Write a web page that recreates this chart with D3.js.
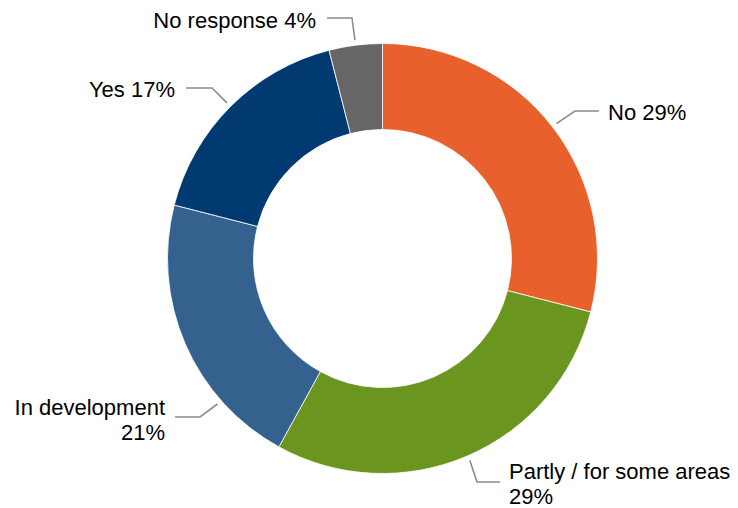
<!DOCTYPE html>
<html>
<head>
<meta charset="utf-8">
<script src="https://cdn.jsdelivr.net/npm/d3@7"></script>
<style>
  html, body { margin: 0; padding: 0; background: #ffffff; }
  svg { display: block; }
  text { font-family: "Liberation Sans", Arial, sans-serif; font-size: 22px; fill: #000; }
</style>
</head>
<body>
<svg id="chart" width="738" height="508"></svg>
<script>
// Survey answers, clockwise from 12 o'clock
const categories = ["No", "Partly / for some areas", "In development", "Yes", "No response"];
const shares = [29, 29, 21, 17, 4];
const labelLines = [
  ["No 29%"],
  ["Partly / for some areas", "29%"],
  ["In development", "21%"],
  ["Yes 17%"],
  ["No response 4%"]
];
const colors = ["#E8602B", "#6A961F", "#34618E", "#003A70", "#666666"];

// Callout placement: label text anchor, leader elbow and leader end next to the text.
// angleShift nudges the point where a leader meets the ring away from the slice middle.
const callouts = [
  { tx: 608, ty: 120, anchor: "start", elbow: [575, 111], end: [599, 111], angleShift: 0 },
  { tx: 509, ty: 479, anchor: "start", elbow: [477, 482], end: [500, 482], angleShift: 0 },
  { tx: 165, ty: 415, anchor: "end",   elbow: [200, 417], end: [175, 417], angleShift: -18 },
  { tx: 175, ty: 97,  anchor: "end",   elbow: [212, 88],  end: [186, 88],  angleShift: 0 },
  { tx: 316, ty: 28,  anchor: "end",   elbow: [352, 18],  end: [327, 18],  angleShift: 0 }
];

const cx = 382.5, cy = 258.5, outerR = 215, innerR = 129, leaderR = 220;

const svg = d3.select("#chart");
const g = svg.append("g").attr("transform", `translate(${cx},${cy})`);

const pie = d3.pie().value(d => d).sort(null);
const arcs = pie(shares);
const arc = d3.arc().innerRadius(innerR).outerRadius(outerR);

g.selectAll("path.slice")
  .data(arcs)
  .join("path")
  .attr("class", "slice")
  .attr("d", arc)
  .attr("fill", (d, i) => colors[i])
  .attr("stroke", "#ffffff")
  .attr("stroke-width", 0.8);

// Leader lines from the ring out to each label
const line = d3.line();
svg.selectAll("path.leader")
  .data(arcs)
  .join("path")
  .attr("class", "leader")
  .attr("d", (d, i) => {
    const c = callouts[i];
    const a = (d.startAngle + d.endAngle) / 2 + c.angleShift * Math.PI / 180;
    const start = [cx + Math.sin(a) * leaderR, cy - Math.cos(a) * leaderR];
    return line([start, c.elbow, c.end]);
  })
  .attr("fill", "none")
  .attr("stroke", "#8C8C8C")
  .attr("stroke-width", 1.6);

// Labels
svg.selectAll("text.label")
  .data(arcs)
  .join("text")
  .attr("class", "label")
  .attr("text-anchor", (d, i) => callouts[i].anchor)
  .each(function(d, i) {
    const c = callouts[i];
    d3.select(this).selectAll("tspan")
      .data(labelLines[i])
      .join("tspan")
      .attr("x", c.tx)
      .attr("y", (t, j) => c.ty + j * 24.5)
      .text(t => t);
  });
</script>
</body>
</html>
